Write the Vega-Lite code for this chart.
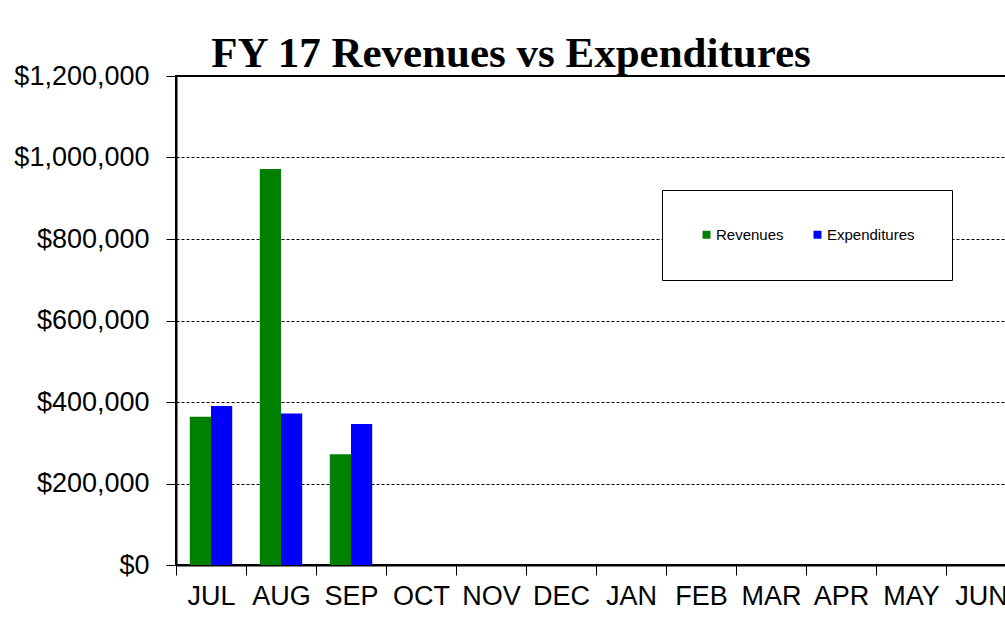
{
  "$schema": "https://vega.github.io/schema/vega-lite/v6.json",
  "autosize": {"type": "none"},
  "width": 840,
  "height": 489,
  "padding": {"left": 176, "top": 76, "right": 0, "bottom": 53},
  "background": "white",
  "title": {
    "text": "FY 17 Revenues vs Expenditures",
    "font": "Liberation Serif",
    "fontSize": 43,
    "fontWeight": "bold",
    "color": "black",
    "anchor": "middle",
    "frame": "group",
    "dx": -85,
    "dy": 22,
    "offset": 8
  },
  "data": {
    "values": [
      {"month": "JUL", "series": "Revenues", "amount": 364000},
      {"month": "JUL", "series": "Expenditures", "amount": 390000},
      {"month": "AUG", "series": "Revenues", "amount": 972000},
      {"month": "AUG", "series": "Expenditures", "amount": 372000},
      {"month": "SEP", "series": "Revenues", "amount": 272000},
      {"month": "SEP", "series": "Expenditures", "amount": 346000}
    ]
  },
  "mark": {"type": "bar"},
  "encoding": {
    "x": {
      "field": "month",
      "type": "nominal",
      "sort": null,
      "scale": {
        "domain": ["JUL", "AUG", "SEP", "OCT", "NOV", "DEC", "JAN", "FEB", "MAR", "APR", "MAY", "JUN"],
        "paddingInner": 0,
        "paddingOuter": 0
      },
      "axis": {
        "title": null,
        "labelAngle": 0,
        "tickBand": "extent",
        "labelFont": "Liberation Sans",
        "labelFontSize": 27,
        "labelColor": "black",
        "labelPadding": 8,
        "tickSize": 10,
        "tickColor": "black",
        "tickWidth": 1,
        "domainColor": "black",
        "domainWidth": 2,
        "grid": false
      }
    },
    "xOffset": {
      "field": "series",
      "type": "nominal",
      "sort": ["Revenues", "Expenditures"],
      "scale": {"paddingInner": 0, "paddingOuter": 0.65}
    },
    "y": {
      "field": "amount",
      "type": "quantitative",
      "scale": {"domain": [0, 1200000], "nice": false},
      "axis": {
        "title": null,
        "values": [0, 200000, 400000, 600000, 800000, 1000000, 1200000],
        "format": "$,.0f",
        "labelFont": "Liberation Sans",
        "labelFontSize": 27,
        "labelColor": "black",
        "labelPadding": 17,
        "tickSize": 10,
        "tickColor": "black",
        "domainColor": "black",
        "domainWidth": 2,
        "grid": true,
        "gridColor": "black",
        "gridDash": [3, 2],
        "gridWidth": 1
      }
    },
    "color": {
      "field": "series",
      "type": "nominal",
      "scale": {"domain": ["Revenues", "Expenditures"], "range": ["#008000", "#0000FF"]},
      "legend": {
        "title": null,
        "orient": "none",
        "legendX": 486,
        "legendY": 114,
        "direction": "horizontal",
        "symbolType": "square",
        "symbolSize": 64,
        "symbolStrokeWidth": 0,
        "labelFont": "Liberation Sans",
        "labelFontSize": 15,
        "labelColor": "black",
        "labelOffset": 2,
        "columnPadding": 26,
        "padding": 37,
        "strokeColor": "black",
        "fillColor": "white"
      }
    }
  },
  "config": {
    "view": {"stroke": "black", "strokeWidth": 2}
  }
}
